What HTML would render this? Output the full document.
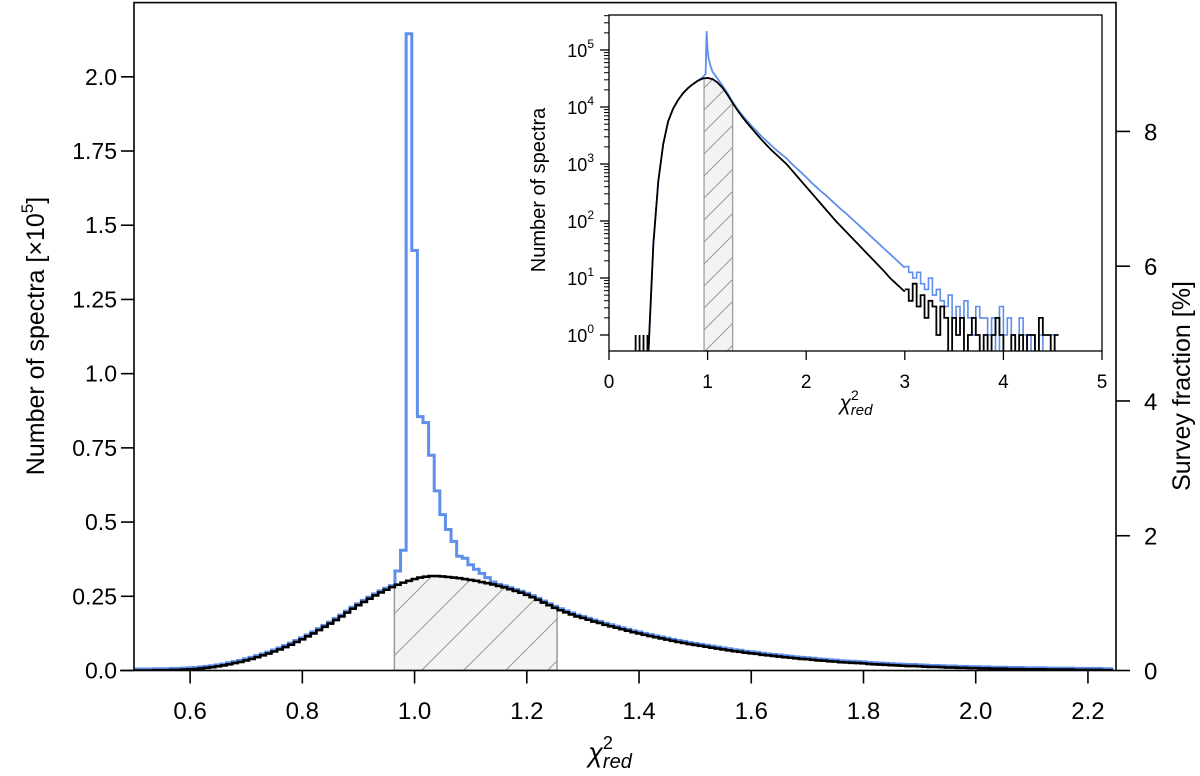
<!DOCTYPE html>
<html><head><meta charset="utf-8">
<style>
html,body{margin:0;padding:0;background:#fff;}
svg{display:block;font-family:"Liberation Sans",Arial,sans-serif;}
</style></head>
<body>
<svg id="chart" width="1200" height="776" viewBox="0 0 1200 776" xmlns="http://www.w3.org/2000/svg">
<defs>
<pattern id="hatch" patternUnits="userSpaceOnUse" width="42" height="42">
<rect width="42" height="42" fill="#f3f3f3"/>
<path d="M0,42 L42,0 M-10,10 L10,-10 M32,52 L52,32" stroke="#999" stroke-width="1"/>
</pattern>
<pattern id="hatch2" patternUnits="userSpaceOnUse" width="22" height="22">
<rect width="22" height="22" fill="#f3f3f3"/>
<path d="M0,22 L22,0 M-5,5 L5,-5 M17,27 L27,17" stroke="#999" stroke-width="1"/>
</pattern>
<clipPath id="mainclip"><rect x="134" y="2" width="982" height="669"/></clipPath>
<clipPath id="insetclip"><rect x="609" y="15" width="493" height="336"/></clipPath>
</defs>
<g id="main"></g>
<g id="inset"></g>
</svg>
<script>
// ---------- MAIN HISTOGRAM DATA (units of 1e5 spectra, bin width 0.01) ----------
const binStart = 0.50;
const binWidth = 0.01;
const blackCounts = [
0.000,0.000,0.000,0.000,0.001,0.001,0.001,0.002,0.002,0.003,
0.004,0.005,0.007,0.009,0.011,0.014,0.017,0.021,0.025,0.029,
0.034,0.039,0.045,0.051,0.057,0.064,0.071,0.079,0.087,0.096,
0.105,0.115,0.125,0.136,0.147,0.158,0.170,0.182,0.195,0.208,
0.220,0.231,0.242,0.253,0.263,0.272,0.281,0.289,0.296,0.302,
0.308,0.313,0.316,0.318,0.318,0.317,0.315,0.313,0.311,0.308,
0.305,0.302,0.298,0.294,0.290,0.285,0.280,0.274,0.268,0.262,
0.255,0.247,0.238,0.229,0.220,0.211,0.203,0.196,0.189,0.182,
0.177,0.171,0.165,0.160,0.154,0.149,0.144,0.139,0.134,0.129,
0.125,0.120,0.116,0.112,0.108,0.104,0.100,0.096,0.093,0.089,
0.086,0.083,0.080,0.077,0.074,0.071,0.068,0.065,0.063,0.060,
0.058,0.056,0.053,0.051,0.049,0.047,0.045,0.043,0.041,0.039,
0.038,0.036,0.034,0.033,0.031,0.030,0.028,0.027,0.026,0.025,
0.024,0.022,0.021,0.020,0.019,0.018,0.017,0.016,0.015,0.015,
0.014,0.013,0.012,0.012,0.011,0.010,0.010,0.009,0.009,0.008,
0.008,0.007,0.007,0.006,0.006,0.006,0.005,0.005,0.005,0.004,
0.004,0.004,0.004,0.003,0.003,0.003,0.003,0.003,0.002,0.002,
0.002,0.002,0.002,0.001,0.001];
const blueStart = 0.97;
const blueCounts = [0.33,0.40,2.14,1.41,0.85,0.83,0.72,0.60,0.52,0.47,0.43,0.38,0.373,0.351,0.336,0.322,0.308,0.293,0.279];
const hatchRange = [0.964,1.254];
const xTicks = [0.6,0.8,1.0,1.2,1.4,1.6,1.8,2.0,2.2];
const xTickLabels = ["0.6","0.8","1.0","1.2","1.4","1.6","1.8","2.0","2.2"];
const yTicks = [0,0.25,0.5,0.75,1.0,1.25,1.5,1.75,2.0];
const yTickLabels = ["0.0","0.25","0.5","0.75","1.0","1.25","1.5","1.75","2.0"];
const pctTicks = [0,2,4,6,8];
const surveyTotal = 22.7;

// ---------- INSET DATA (log10 counts) ----------
const insetBlackX = [0.40,0.45,0.50,0.55,0.60,0.65,0.70,0.75,0.80,0.85,0.90,0.95,1.00,1.05,1.10,1.15,1.20,1.25,1.30,1.35,1.40,1.45,1.50,1.55,1.60,1.65,1.70,1.75,1.80,1.85,1.90,1.95,2.00,2.05,2.10,2.15,2.20,2.25,2.30,2.35,2.40,2.45,2.50,2.55,2.60,2.65,2.70,2.75,2.80,2.85,2.90,2.95,3.00];
const insetBlackLog = [-0.3,1.6,2.7,3.35,3.75,3.97,4.12,4.24,4.33,4.40,4.46,4.50,4.51,4.49,4.43,4.34,4.22,4.08,3.95,3.83,3.72,3.62,3.52,3.42,3.33,3.24,3.16,3.08,3.00,2.90,2.80,2.70,2.60,2.50,2.40,2.30,2.20,2.10,2.00,1.91,1.82,1.73,1.64,1.55,1.46,1.37,1.28,1.19,1.10,1.00,0.92,0.84,0.76];
const insetBlueX = [0.40,0.45,0.50,0.55,0.60,0.65,0.70,0.75,0.80,0.85,0.90,0.95,0.98,0.99,1.00,1.01,1.03,1.05,1.10,1.15,1.20,1.25,1.30,1.35,1.40,1.45,1.50,1.55,1.60,1.65,1.70,1.75,1.80,1.85,1.90,1.95,2.00,2.05,2.10,2.15,2.20,2.25,2.30,2.35,2.40,2.45,2.50,2.55,2.60,2.65,2.70,2.75,2.80,2.85,2.90,2.95,3.00];
const insetBlueLog = [-0.3,1.6,2.7,3.35,3.75,3.97,4.12,4.24,4.33,4.40,4.46,4.52,4.58,5.33,5.0,4.85,4.72,4.62,4.50,4.38,4.25,4.10,3.97,3.86,3.76,3.66,3.57,3.48,3.40,3.32,3.24,3.17,3.10,3.01,2.93,2.85,2.77,2.68,2.60,2.52,2.45,2.37,2.29,2.21,2.14,2.06,1.98,1.90,1.82,1.74,1.66,1.58,1.50,1.42,1.34,1.26,1.18];
const tailStart = 3.00, tailStep = 0.04;
const tailBlack = [0.8,0.6,0.9,0.5,0.7,0.3,0.6,0.5,0.0,0.5,0.3,-1,0.3,0.0,0.3,-1,0.0,0.3,0.0,-1,0.0,-1,0.0,0.3,0.0,-1,-1,0.0,-1,0.0,-1,0.0,0.0,-1,0.3,0.0,0.0,-1,0.0];
const tailBlue  = [1.2,1.1,1.0,1.1,0.9,0.8,1.0,0.7,0.8,0.6,0.5,0.7,0.3,0.5,0.3,0.6,0.3,0.0,0.5,0.3,0.3,0.0,0.3,-1,0.5,0.0,0.3,0.0,-1,0.3,0.0,-1,0.0,-1,0.0,-1,-1,0.0,-1];
const lowTicks = [0.27,0.31,0.35,0.39];
const insetXTicks = [0,1,2,3,4,5];
const insetYExp = [0,1,2,3,4,5];

const NS = "http://www.w3.org/2000/svg";
function mk(parent, tag, attrs, text){
  const e = document.createElementNS(NS, tag);
  for (const k in attrs) e.setAttribute(k, attrs[k]);
  if (text !== undefined) e.textContent = text;
  parent.appendChild(e);
  return e;
}
const X0=134, X1=1116, Y0=670.5, Y1=2.6;
const xs = v => X0 + (v-0.5)/(2.25-0.5)*(X1-X0);
const ys = v => Y0 - v/2.25*(Y0-Y1);
const ypct = p => ys(p/100*surveyTotal);

const main = document.getElementById('main');
const plot = mk(main,'g',{'clip-path':'url(#mainclip)'});



function stepPath(start, counts){
  let d='';
  counts.forEach((c,i)=>{
    const l = xs(start + i*binWidth - binWidth/2), r = xs(start + i*binWidth + binWidth/2), y = ys(c);
    d += (i===0 ? 'M'+l.toFixed(2)+','+ys(0).toFixed(2)+' L' : ' L') + l.toFixed(2)+','+y.toFixed(2)+' L'+r.toFixed(2)+','+y.toFixed(2);
  });
  return d;
}
const blueFull = blackCounts.map((c,i)=>{
  const x = binStart + i*binWidth;
  const j = Math.round((x - blueStart)/binWidth);
  return (j>=0 && j<blueCounts.length) ? Math.max(c, blueCounts[j]) : c;
});
const bluePath = mk(plot,'path',{d:stepPath(binStart, blueFull), fill:'none', stroke:'#5f8fea', 'stroke-width':3, transform:'translate(0,-1.5)'});



(function(){
  let d = 'M'+xs(hatchRange[0])+','+ys(0);
  blackCounts.forEach((c,i)=>{
    const l = binStart + i*binWidth - binWidth/2, r = l + binWidth;
    const a = Math.max(l,hatchRange[0]), b = Math.min(r,hatchRange[1]);
    if (b>a){ d += ' L'+xs(a).toFixed(2)+','+ys(c).toFixed(2)+' L'+xs(b).toFixed(2)+','+ys(c).toFixed(2); }
  });
  d += ' L'+xs(hatchRange[1])+','+ys(0)+' Z';
  const h = mk(plot,'path',{d:d, fill:'url(#hatch)', stroke:'#999', 'stroke-width':1.5});
  
  
})();

const blackPath = mk(plot,'path',{d:stepPath(binStart, blackCounts), fill:'none', stroke:'#000', 'stroke-width':2.6});



const frame = mk(main,'rect',{x:X0,y:Y1,width:X1-X0,height:Y0-Y1,fill:'none',stroke:'#000','stroke-width':1.6});


const baseExt = mk(main,'line',{x1:X0-14,x2:X0,y1:Y0,y2:Y0,stroke:'#000','stroke-width':1.6});



xTicks.forEach((t,i)=>{
  const x = xs(t);
  const tk = mk(main,'line',{x1:x,x2:x,y1:Y0,y2:Y0+13,stroke:'#000','stroke-width':1.6});
  
  
  const lb = mk(main,'text',{x:x,y:719,'text-anchor':'middle','font-size':24},xTickLabels[i]);
  
  
});
yTicks.forEach((t,i)=>{
  const y = ys(t);
  const tk = mk(main,'line',{x1:X0-13,x2:X0,y1:y,y2:y,stroke:'#000','stroke-width':1.6});
  
  
  const lb = mk(main,'text',{x:X0-17,y:y+8,'text-anchor':'end','font-size':23},yTickLabels[i]);
  
  
});
pctTicks.forEach(p=>{
  const y = ypct(p);
  const tk = mk(main,'line',{x1:X1,x2:X1+14,y1:y,y2:y,stroke:'#000','stroke-width':1.6});
  
  
  const lb = mk(main,'text',{x:X1+28,y:y+9,'text-anchor':'start','font-size':24},String(p));
  
  
});
const xt = mk(main,'text',{x:610,y:762,'text-anchor':'middle','font-size':27,'font-style':'italic'});


xt.innerHTML = 'χ<tspan dy="-13" font-size="18" font-style="normal">2</tspan><tspan dx="-10" dy="19" font-size="20">red</tspan>';
const ytl = mk(main,'text',{transform:'translate(44,336) rotate(-90)','text-anchor':'middle','font-size':25});


ytl.innerHTML = 'Number of spectra [×10<tspan dy="-11" font-size="17">5</tspan><tspan dy="11">]</tspan>';
const ytr = mk(main,'text',{transform:'translate(1190,386) rotate(-90)','text-anchor':'middle','font-size':25},'Survey fraction [%]');



// ---------- inset ----------
const IX0=609, IX1=1102, IY0=351, IY1=15;
const DEC=57, LOG0Y=335;
const ixs = v => IX0 + v/5*(IX1-IX0);
const iys = l => LOG0Y - l*DEC;
const inset = document.getElementById('inset');
const ibg = mk(inset,'rect',{x:IX0,y:IY1,width:IX1-IX0,height:IY0-IY1,fill:'#fff'});


const ip = mk(inset,'g',{'clip-path':'url(#insetclip)'});



function curve(xsArr, lArr){
  return xsArr.map((x,i)=>(i?'L':'M')+ixs(x).toFixed(2)+','+iys(lArr[i]).toFixed(2)).join(' ');
}
function tail(arr){
  let d='';
  arr.forEach((l,i)=>{
    const a = ixs(tailStart+i*tailStep), b = ixs(tailStart+(i+1)*tailStep);
    const y = l<0 ? IY0+2 : iys(l);
    d += (i?' L':'M')+a.toFixed(2)+','+y.toFixed(2)+' L'+b.toFixed(2)+','+y.toFixed(2);
  });
  return d;
}
const ibt = mk(ip,'path',{d:tail(tailBlue),fill:'none',stroke:'#5f8fea','stroke-width':1.6});


const ib = mk(ip,'path',{d:curve(insetBlueX,insetBlueLog),fill:'none',stroke:'#5f8fea','stroke-width':1.8});


(function(){
  let d='M'+ixs(0.964)+','+IY0;
  insetBlackX.forEach((x,i)=>{ if(x>=0.95 && x<=1.25) d+=' L'+ixs(Math.max(x,0.964)).toFixed(2)+','+iys(insetBlackLog[i]).toFixed(2); });
  d+=' L'+ixs(1.254)+','+iys(4.07)+' L'+ixs(1.254)+','+IY0+' Z';
  const h = mk(ip,'path',{d:d,fill:'url(#hatch2)',stroke:'#999','stroke-width':1.2});
  
  
})();
const ibk = mk(ip,'path',{d:curve(insetBlackX,insetBlackLog),fill:'none',stroke:'#000','stroke-width':1.8});


const ibkt = mk(ip,'path',{d:tail(tailBlack),fill:'none',stroke:'#000','stroke-width':1.8});


lowTicks.forEach(x=>{
  const l = mk(ip,'line',{x1:ixs(x),x2:ixs(x),y1:iys(0),y2:IY0,stroke:'#000','stroke-width':1.8});
  
  
});
const ifr = mk(inset,'rect',{x:IX0,y:IY1,width:IX1-IX0,height:IY0-IY1,fill:'none',stroke:'#000','stroke-width':1.3});


insetXTicks.forEach(t=>{
  const x = ixs(t);
  const tk = mk(inset,'line',{x1:x,x2:x,y1:IY0,y2:IY0+9,stroke:'#000','stroke-width':1.3});
  
  
  const lb = mk(inset,'text',{x:x,y:IY0+37,'text-anchor':'middle','font-size':19},String(t));
  
  
});
insetYExp.forEach(e=>{
  const y = iys(e);
  const tk = mk(inset,'line',{x1:IX0-9,x2:IX0,y1:y,y2:y,stroke:'#000','stroke-width':1.3});
  
  
  for(let m=2;m<=9;m++){
    const yy = y - Math.log10(m)*DEC;
    if(yy<IY1) continue;
    const mt = mk(inset,'line',{x1:IX0-5,x2:IX0,y1:yy,y2:yy,stroke:'#000','stroke-width':1});
    
    
  }
  const lb = mk(inset,'text',{x:IX0-15,y:y+7,'text-anchor':'end','font-size':18});
  
  
  lb.innerHTML = '10<tspan dy="-9" font-size="12">'+e+'</tspan>';
});
const iyt = mk(inset,'text',{transform:'translate(545,190) rotate(-90)','text-anchor':'middle','font-size':20},'Number of spectra');


const ixt = mk(inset,'text',{x:856,y:410,'text-anchor':'middle','font-size':21,'font-style':'italic'});


ixt.innerHTML = 'χ<tspan dy="-10" font-size="14" font-style="normal">2</tspan><tspan dx="-8" dy="15" font-size="15">red</tspan>';
</script>
</body></html>
